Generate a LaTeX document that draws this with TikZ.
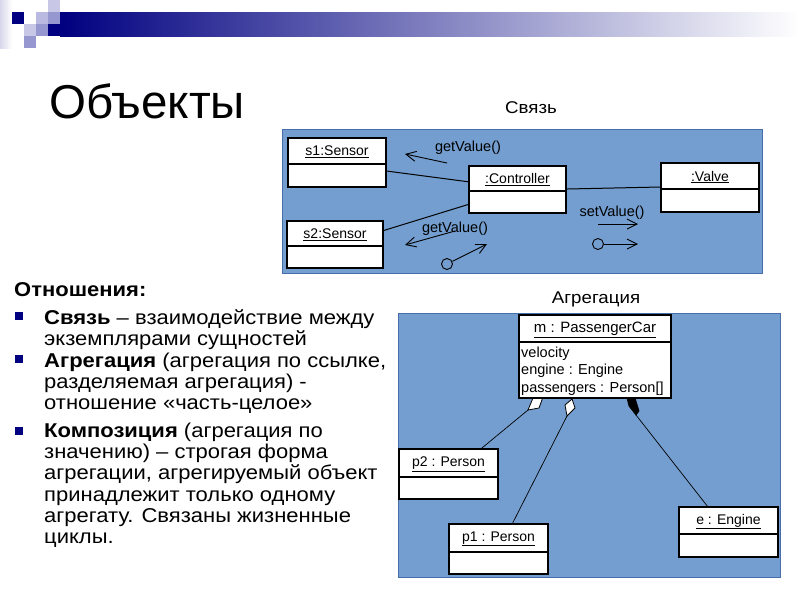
\documentclass[tikz,border=0pt]{standalone}
\usepackage{fontspec}
\setmainfont{Liberation Sans}
\newfontfamily\widefont[FakeStretch=1.1]{Liberation Sans}
\usetikzlibrary{arrows.meta,calc}
\definecolor{navy}{RGB}{0,0,128}
\definecolor{panel}{RGB}{115,158,207}
\definecolor{panelborder}{RGB}{70,110,170}
\definecolor{lavA}{RGB}{200,200,230}
\definecolor{lavB}{RGB}{185,185,225}
\definecolor{lavC}{RGB}{150,150,208}
\definecolor{lavD}{RGB}{215,215,235}
\newcommand\objbox[8]{% name, x1, y1, x2, y2, ydiv, label, style
  \node[objrect,#8, minimum width={#4-#2}, minimum height={#5-#3}] (#1) at ({(#2+#4)/2},{(#3+#5)/2}) {};
  \draw[#8] (#2,#6) -- (#4,#6);
  \node[objlabel] (#1-t) at ({(#2+#4)/2},{(#3+#6)/2+1}) {\underline{#7}};
}
\begin{document}
\begin{tikzpicture}[x=1pt,y=-1pt,
  objrect/.style={draw=black, fill=white, inner sep=0pt, line width=1.1pt},
  objlabel/.style={inner sep=0pt, font=\fontsize{14}{16}\selectfont},
  thickbox/.style={line width=1.6pt},
  thinbox/.style={line width=1.1pt},
  msg/.style={line width=0.9pt, -{Straight Barb[length=10pt,width=10pt]}},
  link/.style={line width=1pt},
  agg/.style={line width=0.7pt},
  body/.style={anchor=base west, inner sep=0pt, font=\widefont\fontsize{20}{22}\selectfont},
  bullet/.style={fill=navy, inner sep=0pt, minimum size=8pt}]
\useasboundingbox (0,0) rectangle (800,600);
\fill[white] (0,0) rectangle (800,600);
% header decoration
\shade[left color=lavD, right color=white] (0,0) rectangle (12,48);
\fill[navy] (12,12) rectangle (24,24);
\fill[lavA] (48,0) rectangle (60,12);
\fill[lavB] (36,12) rectangle (48,24);
\fill[lavC] (48,12) rectangle (60,24);
\fill[lavA] (24,24) rectangle (36,36);
\fill[lavC] (36,24) rectangle (48,36);
\fill[navy] (48,24) rectangle (60,36);
\fill[lavC] (24,36) rectangle (36,48);
\shade[left color=navy, right color=white] (60,12) rectangle (800,36);
% title
\node[anchor=base west, inner sep=0pt, font=\fontsize{47.5}{50}\selectfont] (title) at (49,118) {Объекты};
% panel labels
\node[anchor=base, inner sep=0pt, font=\widefont\fontsize{17}{19}\selectfont] (lab1) at (531,113.5) {Связь};
\node[anchor=base, inner sep=0pt, font=\widefont\fontsize{17}{19}\selectfont] (lab2) at (596,303) {Агрегация};
% panel 1
\filldraw[fill=panel, draw=panelborder, line width=0.8pt] (282,129) rectangle (762,273);
\objbox{s1}{288}{138}{386}{187}{164}{s1:Sensor}{thinbox}
\objbox{ctrl}{469}{166}{566}{213}{191}{:Controller}{thinbox}
\objbox{valve}{661}{163}{759}{212}{189}{:Valve}{thinbox}
\objbox{s2}{287}{221}{383}{268}{246}{s2:Sensor}{thinbox}
\draw[link] ($(s1.north east)!0.67!(s1.south east)$) -- ($(ctrl.north west)!0.34!(ctrl.south west)$);
\draw[link] ($(s2.north east)!0.21!(s2.south east)$) -- ($(ctrl.north west)!0.81!(ctrl.south west)$);
\draw[link] ($(ctrl.north east)!0.49!(ctrl.south east)$) -- ($(valve.north west)!0.49!(valve.south west)$);
\node[anchor=base, inner sep=0pt, font=\fontsize{14.5}{16}\selectfont] (gv1) at (468,151.5) {getValue()};
\node[anchor=base, inner sep=0pt, font=\fontsize{14.5}{16}\selectfont] (gv2) at (455,232) {getValue()};
\node[anchor=base, inner sep=0pt, font=\fontsize{14.5}{16}\selectfont] (sv) at (612,216) {setValue()};
\coordinate (g1s) at (447,163); \coordinate (g1e) at (405,154);
\coordinate (g2s) at (455,231); \coordinate (g2e) at (405,245);
\coordinate (svs) at (598,224); \coordinate (sve) at (638,224);
\coordinate (c1e) at (638,244); \coordinate (c2e) at (487,244);
\draw[msg] (g1s) -- (g1e);
\draw[msg] (g2s) -- (g2e);
\draw[msg] (svs) -- (sve);
\node[circle, draw, line width=0.9pt, minimum size=11pt, inner sep=0pt] (c1) at (598,244) {};
\node[circle, draw, line width=0.9pt, minimum size=11pt, inner sep=0pt] (c2) at (447,264) {};
\draw[msg] (c1) -- (c1e);
\draw[msg] (c2) -- (c2e);
% panel 2
\filldraw[fill=panel, draw=panelborder, line width=0.8pt] (398,313) rectangle (780,577);
\coordinate (d1b) at (528,410);
\coordinate (d2b) at (567,416);
\coordinate (d3b) at (636,415);
\objbox{p2}{399}{449}{498}{499}{477}{p2 : Person}{thickbox}
\objbox{p1}{449}{524}{548}{574}{552}{p1 : Person}{thickbox}
\objbox{eng}{679}{507}{778}{557}{534}{e : Engine}{thickbox}
\draw[agg] (d1b) -- ($(p2.north west)!0.83!(p2.north east)$);
\draw[agg] (d2b) -- ($(p1.north west)!0.64!(p1.north east)$);
\draw[agg] (d3b) -- ($(eng.north west)!0.29!(eng.north east)$);
\filldraw[fill=white, draw=black, line width=0.8pt] (533,398) -- (543,397) -- (539,408) -- (d1b) -- cycle;
\filldraw[fill=white, draw=black, line width=0.8pt] (565,405) -- (572,399) -- (575,408) -- (d2b) -- cycle;
\filldraw[fill=black, draw=black, line width=0.8pt] (627,398) -- (635,398) -- (639,411) -- (d3b) -- (629,406) -- cycle;
\node[objrect, thickbox, minimum width=152, minimum height=83] (car) at (595,356.5) {};
\draw[thickbox] (519,342) -- (671,342);
\node[objlabel, font=\fontsize{15}{17}\selectfont] (car-t) at (595,330) {\underline{m : PassengerCar}};
\node[anchor=base west, inner sep=0pt, font=\fontsize{14.5}{16}\selectfont] (at1) at (521,357) {velocity};
\node[anchor=base west, inner sep=0pt, font=\fontsize{14.5}{16}\selectfont] (at2) at (521,374.5) {engine : Engine};
\node[anchor=base west, inner sep=0pt, font=\fontsize{14.5}{16}\selectfont] (at3) at (521,392) {passengers : Person[]};
% left text
\node[body, font=\widefont\bfseries\fontsize{20}{22}\selectfont] (h) at (14,296) {Отношения:};
\node[bullet] (b1) at (19,316) {};
\node[bullet] (b2) at (19,359) {};
\node[bullet] (b3) at (19,431) {};
\node[body] (l1) at (44,324) {\textbf{Связь} – взаимодействие между};
\node[body] (l2) at (44,345) {экземплярами сущностей};
\node[body] (l3) at (44,367.3) {\textbf{Агрегация} (агрегация по ссылке,};
\node[body] (l4) at (44,388.5) {разделяемая агрегация) -};
\node[body] (l5) at (44,409.5) {отношение «часть-целое»};
\node[body] (l6) at (44,437.5) {\textbf{Композиция} (агрегация по};
\node[body] (l7) at (44,458.7) {значению) – строгая форма};
\node[body] (l8) at (44,479.9) {агрегации, агрегируемый объект};
\node[body] (l9) at (44,501.1) {принадлежит только одному};
\node[body] (l10) at (44,522.3) {агрегату. Связаны жизненные};
\node[body] (l11) at (44,543.5) {циклы.};
\end{tikzpicture}
\end{document}
